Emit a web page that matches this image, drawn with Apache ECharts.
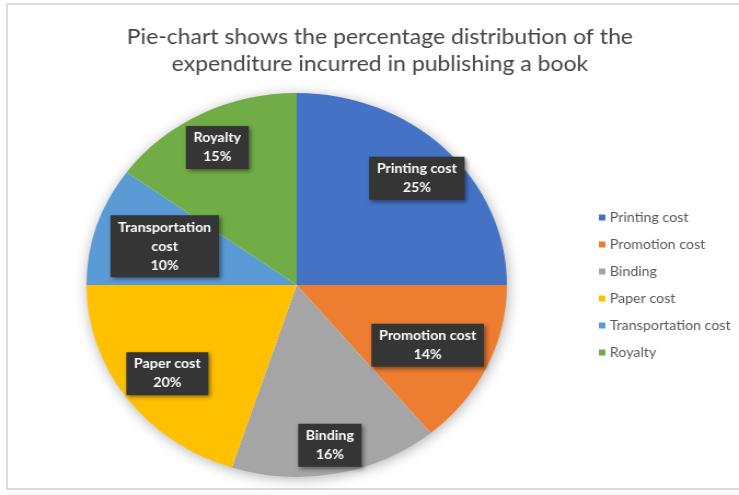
<!DOCTYPE html>
<html>
<head>
<meta charset="utf-8">
<script src="https://cdn.jsdelivr.net/npm/echarts@6/dist/echarts.min.js"></script>
<style>
  html, body { margin: 0; padding: 0; background: #fff; overflow: hidden; }
  #wrap { position: relative; width: 739px; height: 495px; overflow: hidden; background: #fff; }
  #frame { position: absolute; left: 6px; top: 3px; width: 760px; height: 487px; border: 2px solid #dcdcdc; box-sizing: border-box; }
  #chart { position: absolute; left: 0; top: 0; width: 675px; height: 495px; transform: scaleX(1.0948); transform-origin: 0 0; }
</style>
</head>
<body>
<div id="wrap">
  <div id="frame"></div>
  <div id="chart"></div>
</div>
<script>
const titleText = 'Pie-chart shows the percentage distribution of the\nexpenditure incurred in publishing a book';
const categories = ['Printing cost', 'Promotion cost', 'Binding', 'Paper cost', 'Transportation cost', 'Royalty'];
const values = [25, 14, 16, 20, 10, 15];
const colors = ['#4472C4', '#ED7D31', '#A5A5A5', '#FFC000', '#5B9BD5', '#70AD47'];

const FONT = 'Lato, "Open Sans", sans-serif';
// label nudges (layout only, in px)
const LABEL_NUDGE = [[3, 0], [-17, -4], [2, 12], [4, 0], [23, 8], [-4, -3]];

const pieData = categories.map((n, i) => ({ name: n, value: values[i] }));
const labelData = categories.map((n, i) => ({ name: n, value: values[i], label: { offset: LABEL_NUDGE[i] } }));

const chart = echarts.init(document.getElementById('chart'), null, { renderer: 'canvas' });
chart.setOption({
  animation: false,
  color: colors,
  title: {
    text: titleText,
    left: 342,
    top: 19,
    textAlign: 'center',
    textStyle: { fontFamily: FONT, fontSize: 21, fontWeight: 'normal', color: '#454545', lineHeight: 27 }
  },
  legend: {
    orient: 'vertical',
    left: 542,
    top: 206,
    icon: 'rect',
    itemWidth: 6,
    itemHeight: 6,
    itemGap: 14,
    data: categories,
    textStyle: { fontFamily: FONT, fontSize: 13, color: '#595959', padding: [0, 0, 0, -1] }
  },
  series: [
    {
      type: 'pie',
      name: 'shadow',
      silent: true,
      center: [271, 285],
      radius: 191,
      z: 1,
      label: { show: false },
      labelLine: { show: false },
      itemStyle: { color: '#ffffff', shadowBlur: 14, shadowColor: 'rgba(0,0,0,0.35)', shadowOffsetX: 1, shadowOffsetY: 2 },
      data: [{ name: '_bg', value: 1 }],
      legendHoverLink: false
    },
    {
      type: 'pie',
      name: 'Expenditure',
      center: [271, 285],
      radius: 192,
      startAngle: 90,
      clockwise: true,
      z: 2,
      label: { show: false },
      labelLine: { show: false },
      itemStyle: { borderWidth: 0 },
      data: pieData
    },
    {
      type: 'pie',
      name: 'labels',
      silent: true,
      center: [271, 285],
      radius: [104, 192],
      startAngle: 90,
      clockwise: true,
      z: 3,
      itemStyle: { color: 'rgba(0,0,0,0)' },
      labelLine: { show: false },
      label: {
        show: true,
        position: 'inside',
        formatter: p => (p.name.length > 15 ? p.name.replace(' ', '\n') : p.name) + '\n' + p.value + '%',
        fontFamily: FONT,
        fontSize: 13,
        fontWeight: 'bold',
        lineHeight: 19,
        color: '#ffffff',
        backgroundColor: '#353535',
        padding: [3, 7, 2, 7],
        shadowBlur: 4,
        shadowColor: 'rgba(0,0,0,0.45)',
        shadowOffsetX: 2,
        shadowOffsetY: 2
      },
      data: labelData
    }
  ]
});
</script>
</body>
</html>
